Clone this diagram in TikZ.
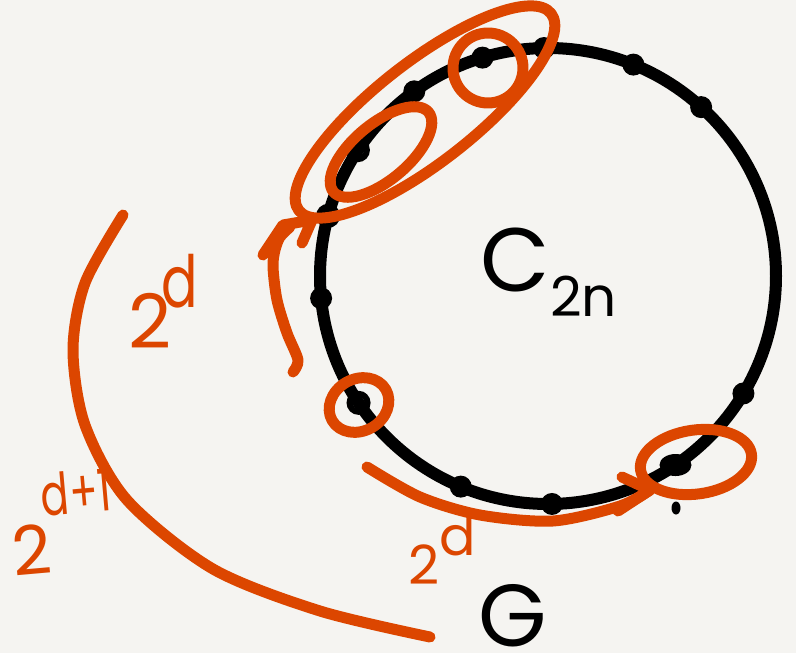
\documentclass[tikz,border=0pt]{standalone}
\usepackage{fontspec}
\setmainfont{Poppins}
\definecolor{pen}{RGB}{220,70,0}
\definecolor{paper}{RGB}{245,244,241}
\tikzset{
  ink/.style={line width=11pt, line cap=round, line join=round},
  redink/.style={ink, draw=pen},
  lbl/.style={text=pen, inner sep=0pt},
}
\begin{document}
\begin{tikzpicture}[x=1pt,y=1pt]
    \fill[paper] (0,0) rectangle (796,-653);
    \useasboundingbox (0,0) rectangle (796,-653);
    \coordinate (O) at (548,-276);
    % the cycle
    \draw[ink, line width=12pt] (O) circle (228);
    \foreach \a in {91,106.7,68,47.8,125.9,185.6,247.5,271,329} \fill (O) ++(\a:228) circle (11);
    \foreach \a in {146.5,164.7,213.8} \draw[line width=6pt] (O) ++(\a:228) circle (9);
    \fill (O) ++(304:228) ellipse (16 and 11);
    \fill (676,-508) ellipse (4.5 and 6.5);
    % groups
    \draw[redink] (425,-112) ellipse [x radius=160, y radius=50, rotate=38];
    \draw[redink] (381,-152) ellipse [x radius=62, y radius=28, rotate=40];
    \draw[redink] (488,-68) circle (35);
    \draw[redink] (359,-405) ellipse [x radius=31, y radius=26, rotate=30];
    \draw[redink] (696,-462) ellipse [x radius=56, y radius=32, rotate=8];
    % arcs and arrows
    \draw[redink] plot[smooth] coordinates {(123,-215) (85,-283) (73,-350) (85,-425) (127,-500) (213,-569) (320,-611) (430,-637)};
    \draw[redink] plot[smooth] coordinates {(293,-372) (298,-360) (287,-333) (277,-300) (273,-267) (275,-250) (280,-237) (290,-227)};
    \draw[redink] (263,-255) -- (283,-225) -- (312,-220) -- (302,-243);
    \draw[redink] plot[smooth] coordinates {(367,-467) (420,-497) (480,-515) (553,-521) (620,-506) (650,-490)};
    \draw[redink] (622,-477) -- (650,-490) -- (618,-511);
    % labels
    \node (cyc) at (549,-272) {\fontsize{90}{90}\selectfont C\raisebox{-0.28em}{\fontsize{55}{55}\selectfont 2n}};
    \node[lbl] (half) at (163,-301) {\fontsize{75}{75}\selectfont 2\kern-10pt\raisebox{0.55em}{\fontsize{72}{72}\selectfont\scalebox{0.75}[1]{d}}};
    \node[lbl, rotate=5] (whole) at (62,-522) {\fontsize{68}{68}\selectfont 2\kern-6pt\raisebox{0.85em}{\fontsize{58}{58}\selectfont\scalebox{0.72}[1]{d+1}}};
    \node[lbl] (step) at (442,-550) {\fontsize{54}{54}\selectfont 2\raisebox{0.55em}{d}};
    \node (graph) at (513,-616) {\fontsize{88}{88}\selectfont G};
\end{tikzpicture}
\end{document}
